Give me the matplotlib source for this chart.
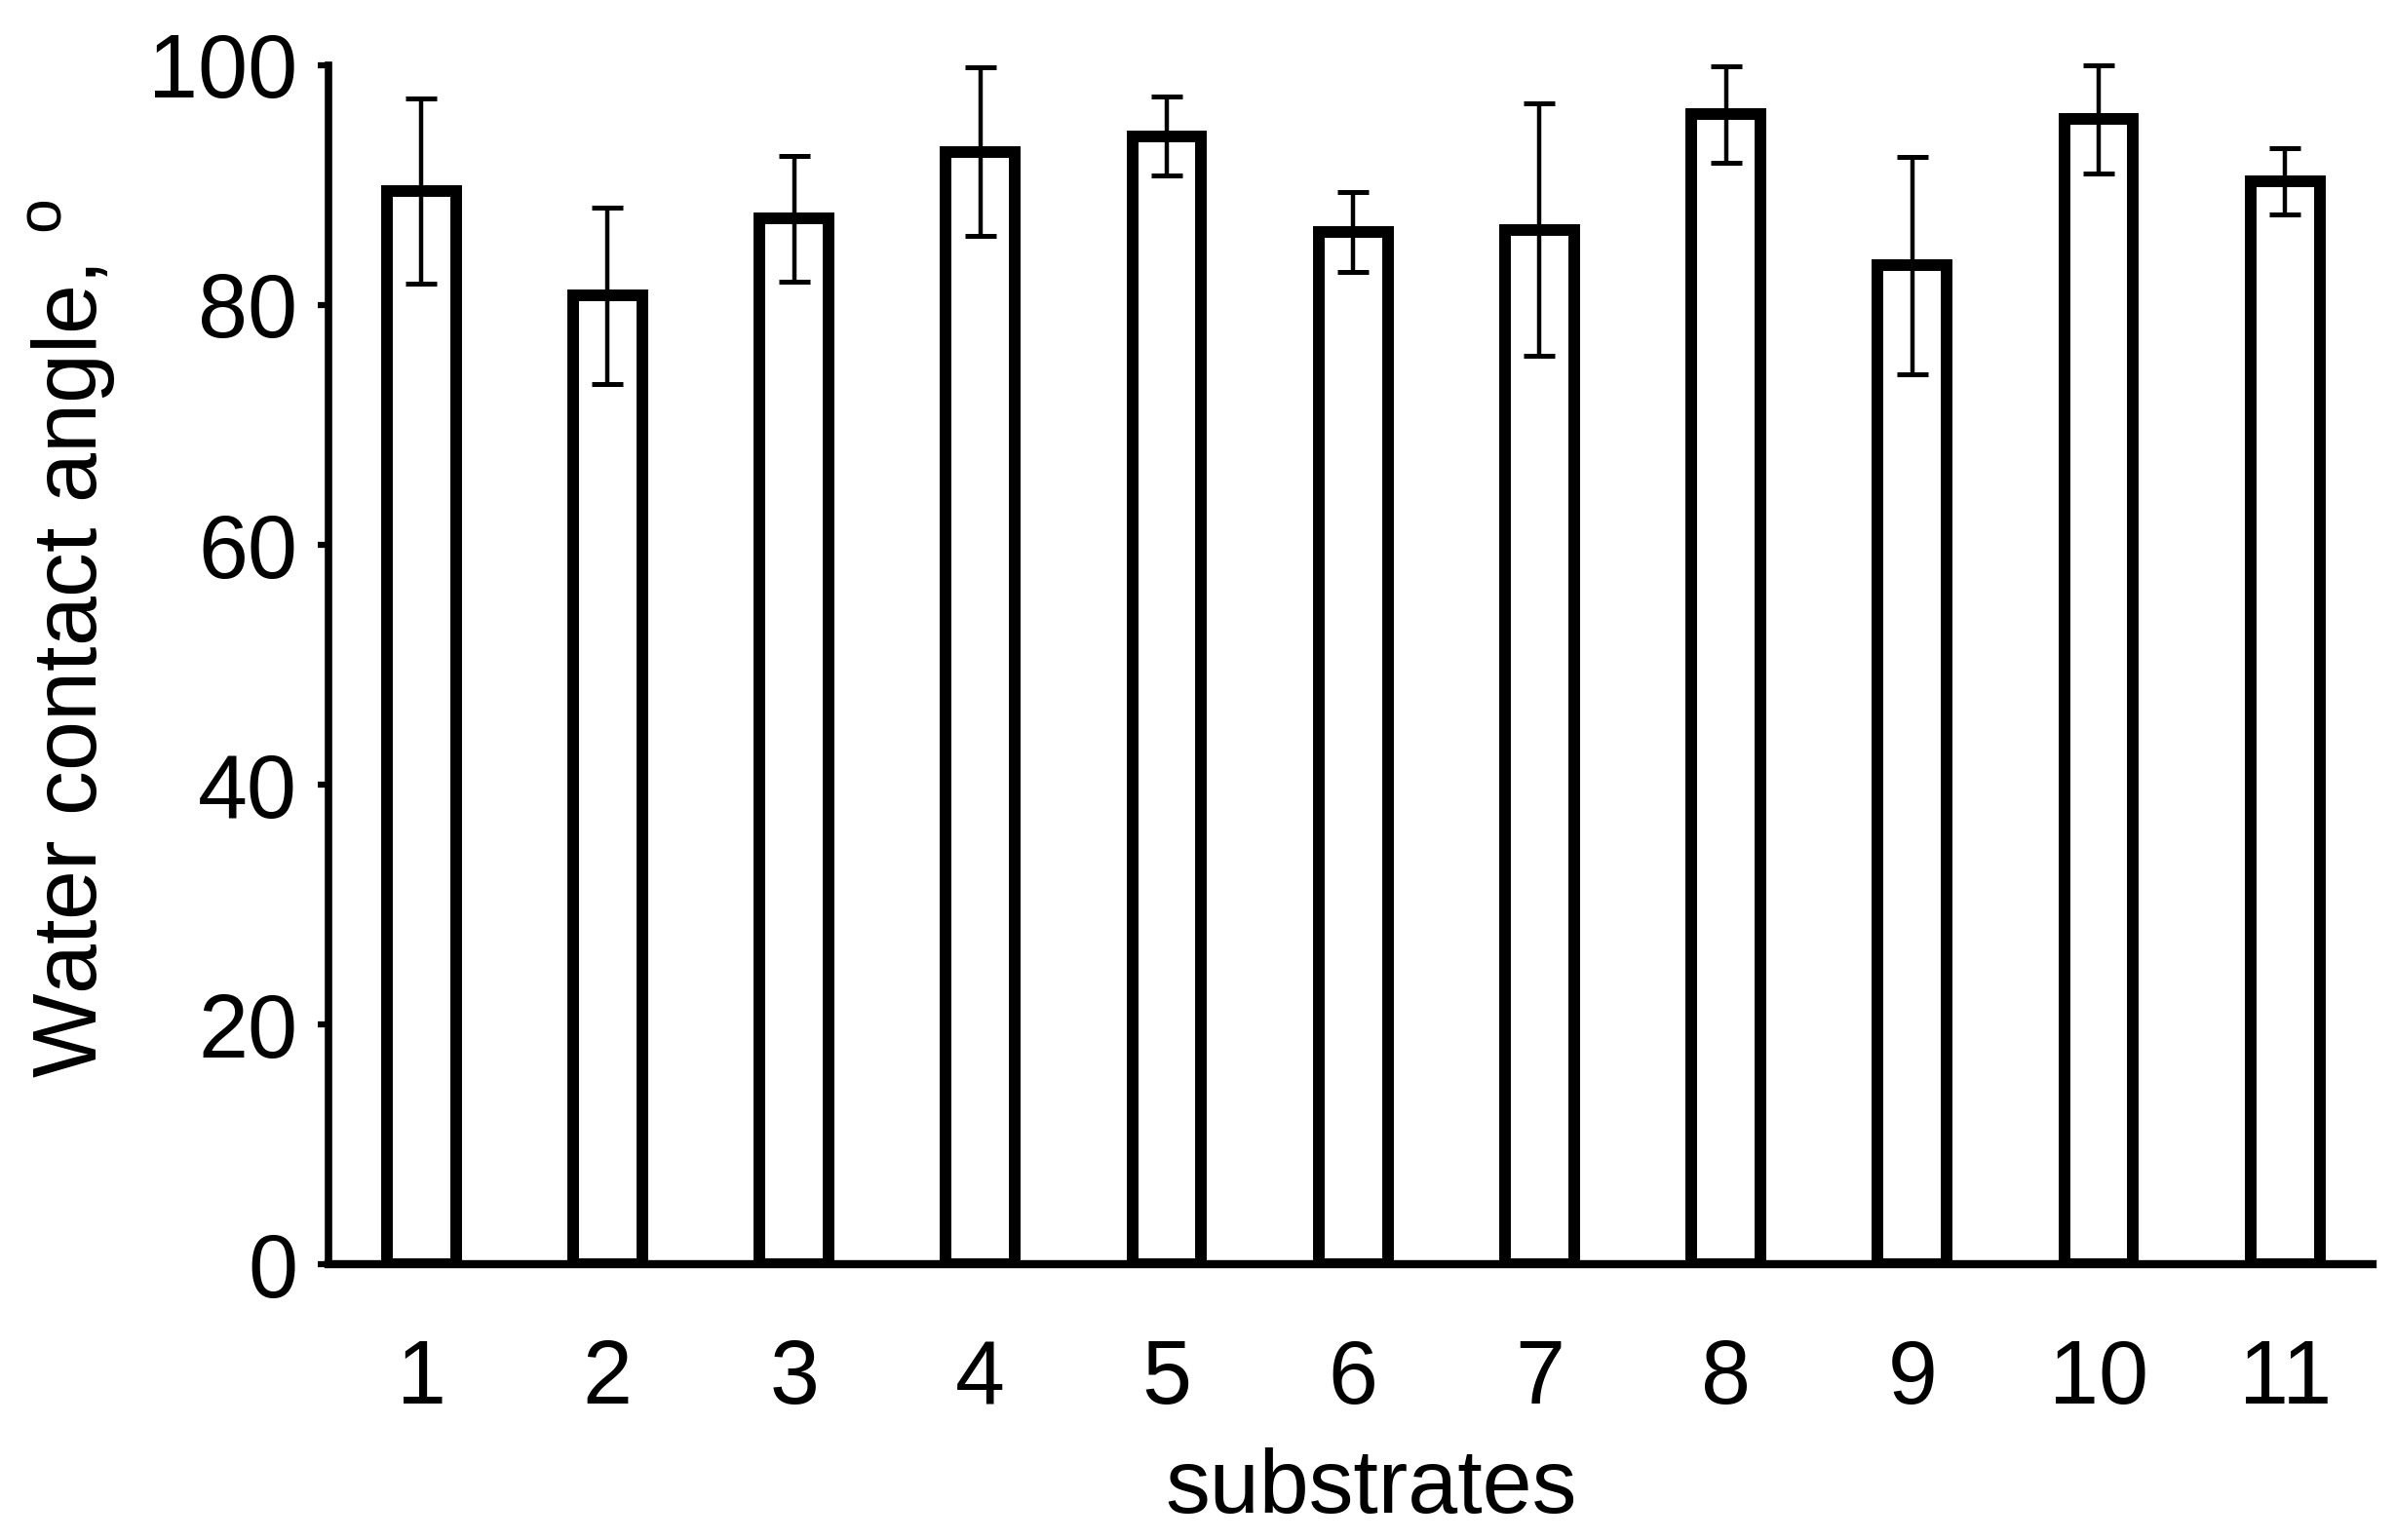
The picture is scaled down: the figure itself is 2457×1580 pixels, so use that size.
import matplotlib
matplotlib.use("Agg")
import matplotlib.pyplot as plt
import numpy as np

plt.rcParams['font.family'] = ['Liberation Sans', 'DejaVu Sans']
plt.rcParams['mathtext.fontset'] = 'custom'
plt.rcParams['mathtext.rm'] = 'Liberation Sans'

# water contact angle per substrate (mean and error)
substrates = [1, 2, 3, 4, 5, 6, 7, 8, 9, 10, 11]
angle_mean = [89.5, 80.8, 87.2, 92.8, 94.1, 86.1, 86.3, 95.9, 83.3, 95.5, 90.3]
angle_err = [7.7, 7.35, 5.25, 7.0, 3.3, 3.35, 10.5, 4.05, 9.05, 4.5, 2.75]
yticks = [0, 20, 40, 60, 80, 100]

fig = plt.figure(figsize=(24.57, 15.80), dpi=100)
ax = fig.add_axes([0.1372, 0.1791, 0.8535, 0.7785])

ax.bar(substrates, angle_mean, width=0.37, color='white', edgecolor='black',
       linewidth=8.6, zorder=2)
ax.errorbar(substrates, angle_mean, yerr=angle_err, fmt='none', ecolor='black',
            elinewidth=3.2, capsize=11.5, capthick=3.6, zorder=3, clip_on=False)

ax.set_xlim(0.503, 11.47)
ax.set_ylim(0, 100)
ax.set_xticks(substrates)
ax.set_xticklabels([str(s) for s in substrates])
ax.set_yticks(yticks)

for s in ['top', 'right']:
    ax.spines[s].set_visible(False)
ax.spines['left'].set_linewidth(5.5)
ax.spines['bottom'].set_linewidth(6.0)
ax.spines['bottom'].set_zorder(4)

ax.tick_params(axis='y', direction='out', length=8, width=4.5, pad=15, labelsize=66)
ax.tick_params(axis='x', length=0, pad=55, labelsize=66)

ax.set_xlabel('substrates', fontsize=66, va='top')
ax.xaxis.set_label_coords(0.510, -0.153)
ax.set_ylabel(r'Water contact angle, $^{\mathrm{o}}$', fontsize=66)
ax.yaxis.set_label_coords(-0.103, 0.522)

fig.savefig('out.png', dpi=100, facecolor='white')
